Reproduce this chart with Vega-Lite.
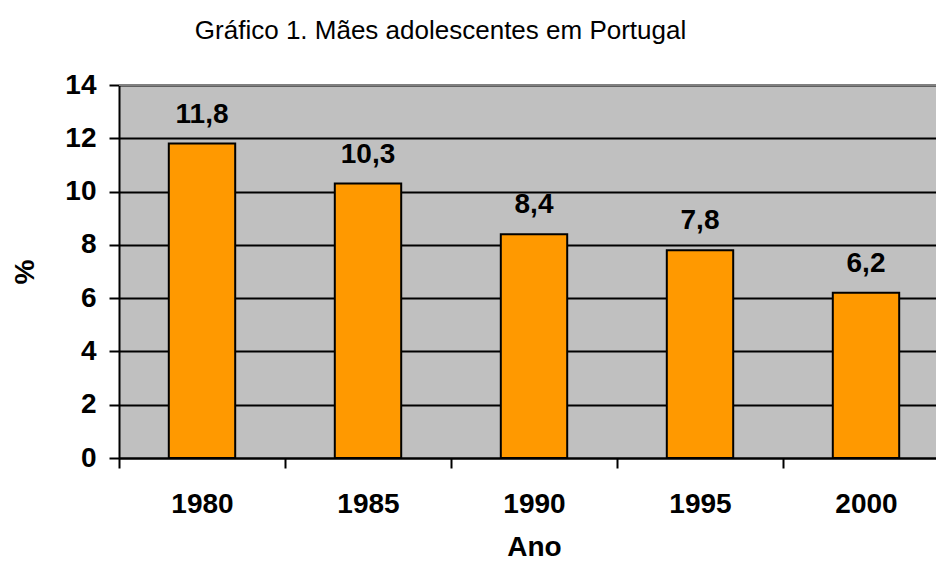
{
  "$schema": "https://vega.github.io/schema/vega-lite/v6.json",
  "autosize": {"type": "none"},
  "padding": {"left": 119, "top": 85, "right": 0, "bottom": 104},
  "width": 817,
  "height": 373,
  "background": "white",
  "title": {
    "text": "Gráfico 1. Mães adolescentes em Portugal",
    "font": "Liberation Sans",
    "fontSize": 26,
    "fontWeight": "normal",
    "color": "#000000",
    "anchor": "start",
    "dx": 183,
    "offset": 27
  },
  "config": {
    "view": {"fill": "#C0C0C0", "stroke": null},
    "axis": {
      "labelFont": "Liberation Sans",
      "labelFontSize": 28,
      "labelFontWeight": "bold",
      "labelColor": "#000000",
      "titleFont": "Liberation Sans",
      "titleFontSize": 28,
      "titleFontWeight": "bold",
      "titleColor": "#000000",
      "domainColor": "#000000",
      "domainWidth": 2,
      "tickColor": "#000000",
      "tickWidth": 2,
      "tickSize": 10
    }
  },
  "data": {
    "values": [
      {"ano": "1980", "pct": 11.8, "label": "11,8"},
      {"ano": "1985", "pct": 10.3, "label": "10,3"},
      {"ano": "1990", "pct": 8.4, "label": "8,4"},
      {"ano": "1995", "pct": 7.8, "label": "7,8"},
      {"ano": "2000", "pct": 6.2, "label": "6,2"}
    ]
  },
  "encoding": {
    "x": {
      "field": "ano",
      "type": "nominal",
      "sort": null,
      "scale": {"range": [0, 830], "paddingInner": 0, "paddingOuter": 0},
      "axis": {
        "title": "Ano",
        "labelAngle": 0,
        "tickBand": "extent",
        "labelPadding": 22,
        "titlePadding": 15,
        "grid": false
      }
    },
    "y": {
      "field": "pct",
      "type": "quantitative",
      "scale": {"domain": [0, 14], "nice": false},
      "axis": {
        "title": "%",
        "values": [0, 2, 4, 6, 8, 10, 12, 14],
        "grid": true,
        "gridColor": "#000000",
        "gridWidth": 2,
        "gridOpacity": 1,
        "labelPadding": 13,
        "titlePadding": 25
      }
    }
  },
  "layer": [
    {
      "mark": {"type": "bar", "color": "#FF9900", "stroke": "#000000", "strokeWidth": 2, "width": {"band": 0.4}}
    },
    {
      "mark": {"type": "text", "font": "Liberation Sans", "fontSize": 28, "fontWeight": "bold", "color": "#000000", "baseline": "alphabetic", "dy": -21},
      "encoding": {"text": {"field": "label"}}
    },
    {
      "mark": {"type": "rule", "color": "#808080", "strokeWidth": 2},
      "encoding": {"y": {"datum": 14}, "x": null}
    }
  ]
}
